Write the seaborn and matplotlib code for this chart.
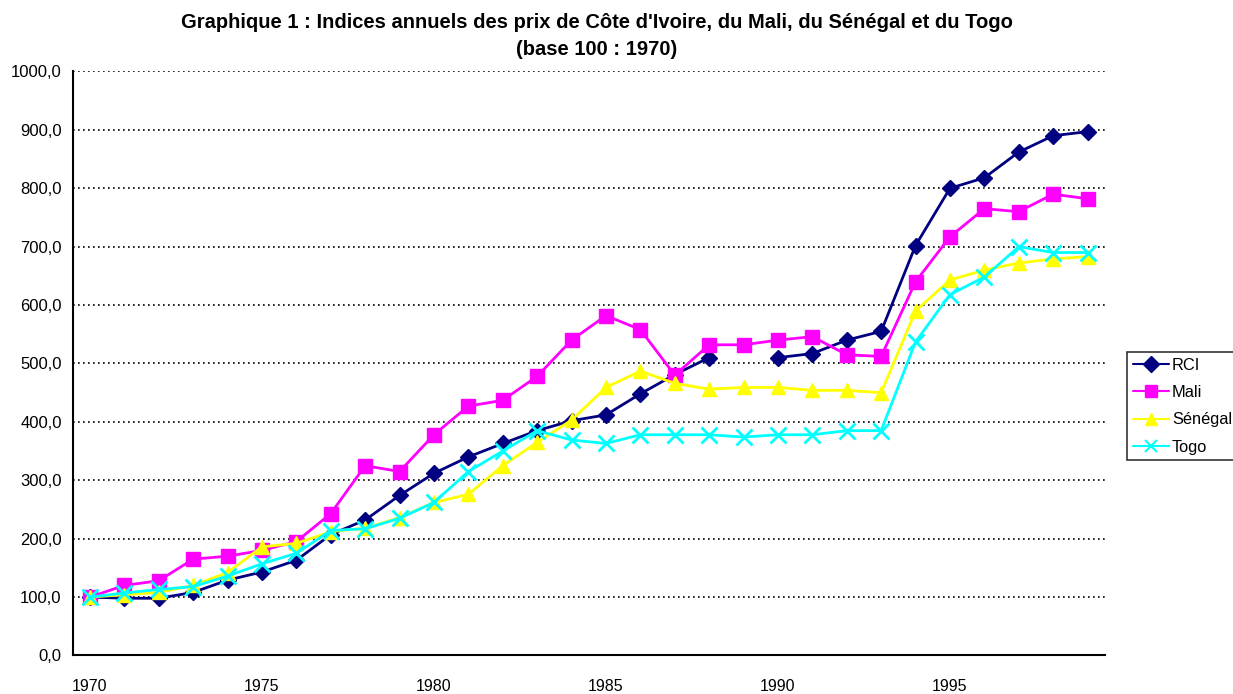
import numpy as np
import pandas as pd
import matplotlib
matplotlib.use("Agg")
import matplotlib.pyplot as plt
import seaborn as sns
from matplotlib.lines import Line2D
from matplotlib.ticker import FixedLocator, FuncFormatter

annees = list(range(1970, 2000))

rci = [100, 98, 98, 108, 129, 143, 163, 207, 232, 274, 312, 340, 363, 385, 402, 412,
       448, 481, 510, np.nan, 510, 517, 540, 555, 702, 800, 818, 862, 890, 897]
mali = [100, 120, 128, 165, 170, 180, 195, 243, 325, 315, 378, 427, 437, 478, 540, 582,
        558, 480, 532, 532, 540, 546, 515, 512, 640, 717, 765, 760, 790, 782]
senegal = [100, 104, 108, 120, 142, 186, 192, 212, 218, 236, 262, 276, 325, 365, 403, 459,
           487, 466, 456, 459, 459, 454, 454, 450, 590, 643, 660, 672, 679, 683]
togo = [100, 107, 113, 118, 136, 157, 175, 214, 217, 235, 262, 315, 350, 385, 369, 363,
        378, 378, 378, 374, 378, 378, 385, 385, 537, 618, 648, 700, 690, 690]

pays = ["RCI", "Mali", "Sénégal", "Togo"]
couleurs = {"RCI": "#000080", "Mali": "#FF00FF", "Sénégal": "#FFFF00", "Togo": "#00FFFF"}
marqueurs = {"RCI": "D", "Mali": "s", "Sénégal": "^", "Togo": "x"}
tailles = {"RCI": 8, "Mali": 10, "Sénégal": 10, "Togo": 11}

# format long ; un segment par morceau continu pour garder le trou de 1989
lignes = []
for nom, serie in zip(pays, [rci, mali, senegal, togo]):
    seg = 0
    for i, v in enumerate(serie):
        if np.isnan(v):
            seg += 1
            continue
        lignes.append({"pos": i, "valeur": v, "pays": nom, "seg": f"{nom}_{seg}"})
df = pd.DataFrame(lignes)

sns.set_style("white")
plt.rcParams["font.family"] = ["Liberation Sans", "DejaVu Sans"]
plt.rcParams["text.color"] = "black"
plt.rcParams["xtick.color"] = "black"
plt.rcParams["ytick.color"] = "black"

fig = plt.figure(figsize=(12.33, 6.94), dpi=100)
ax = fig.add_axes([0.059, 0.0555, 0.837, 0.8415])

for nom in pays:
    sous = df[df["pays"] == nom]
    sns.lineplot(data=sous, x="pos", y="valeur", units="seg", estimator=None,
                 color=couleurs[nom], marker=marqueurs[nom], markersize=tailles[nom],
                 linewidth=2, ax=ax, legend=False)
for ln in ax.lines:
    ln.set_markeredgecolor(ln.get_color())
    ln.set_markerfacecolor(ln.get_color())
    ln.set_markeredgewidth(2 if ln.get_marker() == "x" else 1)

ax.set_xlim(-0.5, 29.5)
ax.set_ylim(0, 1000)
ax.set_xlabel("")
ax.set_ylabel("")

ax.xaxis.set_major_locator(FixedLocator([0, 5, 10, 15, 20, 25]))
ax.set_xticklabels([str(annees[i]) for i in [0, 5, 10, 15, 20, 25]])
ax.xaxis.set_minor_locator(FixedLocator(np.arange(-0.5, 30, 1)))
ax.tick_params(axis="x", which="major", length=0, pad=17, labelsize=11.5)
ax.tick_params(axis="x", which="minor", direction="out", length=6, width=1.2, color="black")

ax.set_yticks(np.arange(0, 1001, 100))
ax.yaxis.set_major_formatter(FuncFormatter(lambda v, p: f"{v:.1f}".replace(".", ",")))
ax.tick_params(axis="y", direction="out", length=6, width=1.2, color="black", labelsize=12, pad=2)

for y in range(100, 1001, 100):
    ax.axhline(y, color="black", linestyle=(0, (1, 2)), linewidth=1.2, zorder=0)

for s in ["top", "right"]:
    ax.spines[s].set_visible(False)
for s in ["left", "bottom"]:
    ax.spines[s].set_color("black")
    ax.spines[s].set_linewidth(1.5)

fig.text(0.484, 0.968, "Graphique 1 : Indices annuels des prix de Côte d'Ivoire, du Mali, du Sénégal et du Togo",
         ha="center", va="center", fontsize=14.5, fontweight="bold")
fig.text(0.484, 0.929, "(base 100 : 1970)", ha="center", va="center", fontsize=14.5, fontweight="bold")

poignees = [Line2D([], [], color=couleurs[n], marker=marqueurs[n], markersize=8, linewidth=1.5,
                   markeredgecolor=couleurs[n], markeredgewidth=1.5 if n == "Togo" else 1)
            for n in pays]
leg = fig.legend(poignees, pays, loc="upper left", bbox_to_anchor=(1127 / 1233, 1 - 352 / 694),
                 frameon=True, fancybox=False, edgecolor="black", fontsize=11.8,
                 handlelength=2.2, borderpad=0.35, borderaxespad=0, labelspacing=0.75,
                 handletextpad=0.2)
leg.get_frame().set_linewidth(1.2)

fig.savefig("out.png", dpi=100)
